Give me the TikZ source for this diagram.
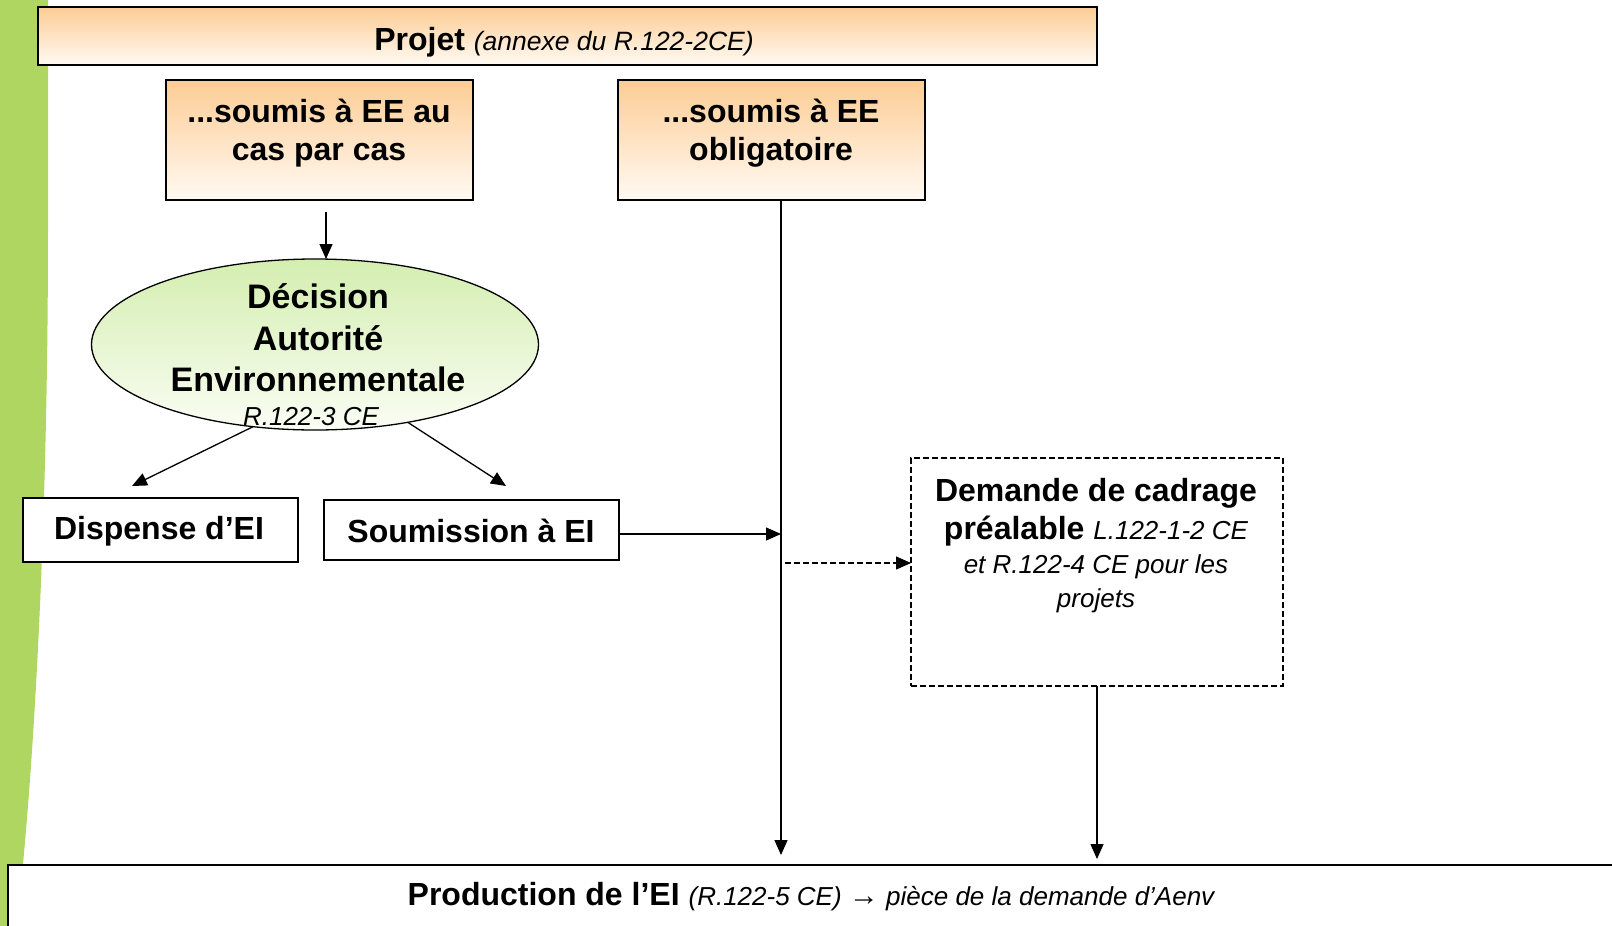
\documentclass[tikz,border=0pt]{standalone}
\usepackage{fontspec}
\setmainfont{Liberation Sans}
\usetikzlibrary{arrows.meta,shapes.geometric}

\definecolor{peachtop}{RGB}{253,204,148}
\definecolor{peachbot}{RGB}{255,250,243}
\definecolor{leaftop}{RGB}{212,238,176}
\definecolor{leafbot}{RGB}{250,253,244}
\definecolor{band}{RGB}{176,214,98}

\tikzset{
  box/.style={draw=black, line width=1.4pt, inner sep=0pt, outer sep=0pt},
  peachbox/.style={box, top color=peachtop, bottom color=peachbot},
  plainbox/.style={box, fill=white},
  dashbox/.style={draw=black, line width=1.3pt, dash pattern=on 6pt off 3pt, inner sep=0pt, outer sep=0pt},
  label/.style={inner sep=0pt, align=center},
  bigbold/.style={font=\bfseries\fontsize{32}{38}\selectfont},
  flow/.style={line width=1.3pt, -{Triangle[length=15pt,width=13pt]}},
  dflow/.style={flow, dash pattern=on 6pt off 3pt}
}

\begin{document}
\begin{tikzpicture}[x=1pt,y=-1pt]
\useasboundingbox (0,0) rectangle (1612,926);
\clip (0,0) rectangle (1612,926);

% green band along the left edge
\fill[band] (0,-2) -- (48,-2) -- (48,230) .. controls (48,520) and (34,780) .. (16,930) -- (0,930) -- cycle;

% header
\node[peachbox, minimum width=1059pt, minimum height=58pt] (projet) at (567.5,36) {};
\node[label] (projett) at (564,42) {{\bfseries\fontsize{32}{36}\selectfont Projet\ }{\itshape\fontsize{26.5}{32}\selectfont (annexe du R.122-2CE)}};

% two project categories
\node[peachbox, minimum width=307pt, minimum height=120pt] (cas) at (319.5,140) {};
\node[label, bigbold] (cast) at (319,133) {...soumis à EE au\\cas par cas};
\node[peachbox, minimum width=307pt, minimum height=120pt] (obl) at (771.5,140) {};
\node[label, bigbold] (oblt) at (771,133) {...soumis à EE\\obligatoire};

% decision of the environmental authority
\node[ellipse, draw=black, line width=1.3pt, top color=leaftop, bottom color=leafbot,
      minimum width=447pt, minimum height=171pt, inner sep=0pt, outer sep=0pt] (ell) at (315,344.5) {};
\node[label, font=\bfseries\fontsize{34}{41.5}\selectfont] (ellt) at (318,338) {Décision\\Autorité\\Environnementale};
\node[label, font=\itshape\fontsize{26}{30}\selectfont] (ellr) at (311,417) {R.122-3 CE};

% outcomes
\node[plainbox, minimum width=275pt, minimum height=64pt] (disp) at (160.5,530) {};
\node[label, bigbold] (dispt) at (159,531) {Dispense d’EI};
\node[plainbox, minimum width=295pt, minimum height=60pt] (soum) at (471.5,530) {};
\node[label, bigbold] (soumt) at (471,531) {Soumission à EI};

% optional scoping request
\node[dashbox, minimum width=372pt, minimum height=228pt] (cad) at (1097,572) {};
\node[label, font=\itshape\fontsize{26}{34}\selectfont] (cadt) at (1096,546)
  {{\upshape\bfseries\fontsize{32}{38}\selectfont Demande de cadrage}\\[4pt]
   {\upshape\bfseries\fontsize{32}{38}\selectfont préalable\ }L.122-1-2 CE\\
   et R.122-4 CE pour les\\projets};

% final production
\node[box, fill=white, minimum width=1632pt, minimum height=100pt] (prod) at (824,915) {};
\node[label] (prodt) at (811,897) {{\bfseries\fontsize{32}{38}\selectfont Production de l’EI\ }{\itshape\fontsize{26}{32}\selectfont (R.122-5 CE) {\fontsize{30}{32}\selectfont →} pièce de la demande d’Aenv}};

% connectors
\coordinate (castop) at (326,212);
\coordinate (vtop) at (781,200);
\coordinate (vbot) at (781,855);
\coordinate (dtip) at (132,486);
\coordinate (stip) at (506,486);
\coordinate (dstart) at (785,563);
\coordinate (ctip) at (1097,859);

\draw[flow] (castop) -- (castop |- ell.north);
\draw[flow] (ell.-127) -- (dtip);
\draw[flow] (ell.-40) -- (stip);
\draw[flow] (vtop) -- (vbot);
\draw[flow] ([yshift=-4pt]soum.east) -- ([yshift=-4pt]soum.east -| vtop);
\draw[dflow] (dstart) -- (dstart -| cad.west);
\draw[flow] (cad.south) -- (ctip);
\end{tikzpicture}
\end{document}
